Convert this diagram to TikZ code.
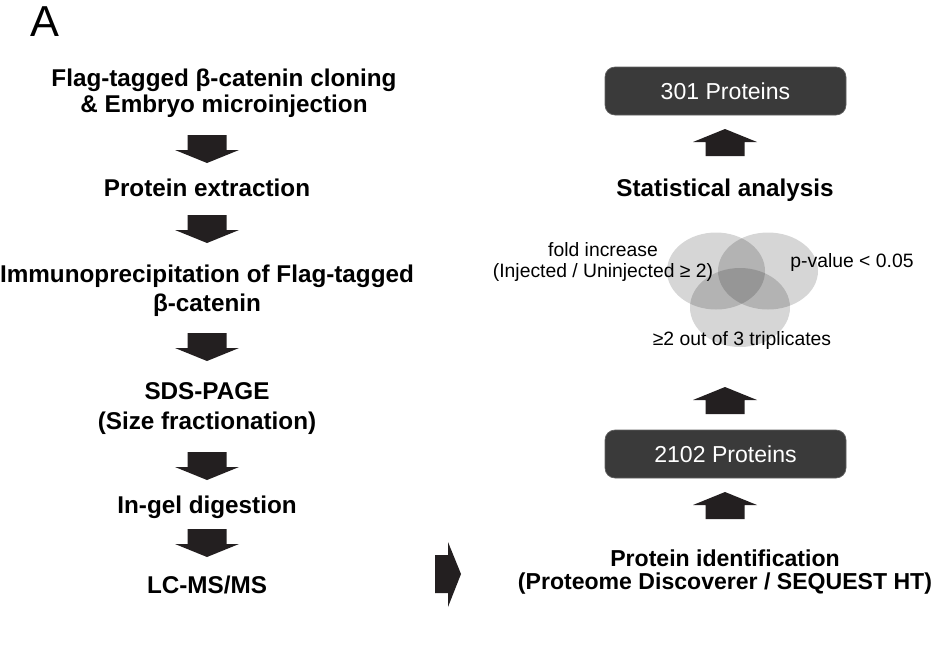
\documentclass[tikz,border=0pt]{standalone}
\usepackage{fontspec}
\setmainfont{Liberation Sans}
\usetikzlibrary{positioning}
\definecolor{arrowc}{HTML}{231F20}
\definecolor{boxc}{HTML}{3A3A3A}
\tikzset{
  steptext/.style={font=\fontsize{18.2}{19.5}\selectfont\bfseries, align=center, inner sep=0pt, text=black},
  plaintext/.style={font=\fontsize{14.5}{15.5}\selectfont, align=center, inner sep=0pt, text=black},
  countbox/.style={fill=boxc, draw=boxc!80!white, line width=0.5pt, rounded corners=7.5pt, minimum width=180.75pt, minimum height=36pt, text=white, font=\fontsize{17.3}{19}\selectfont, inner sep=0pt},
  vennset/.style={fill=black, fill opacity=0.16, draw=none},
  blockarrow/.style={fill=arrowc, draw=none}
}
% down arrow at (x, top y): shaft 39 wide x 15, head 64 wide x 13
\newcommand{\downarr}[2]{%
  \fill[blockarrow] (#1-19.5,#2) -- (#1+19.5,#2) -- (#1+19.5,#2+15) -- (#1+32,#2+15) -- (#1,#2+28) -- (#1-32,#2+15) -- (#1-19.5,#2+15) -- cycle;}
\newcommand{\uparr}[2]{%
  \fill[blockarrow] (#1-19.5,#2) -- (#1+19.5,#2) -- (#1+19.5,#2-14) -- (#1+32,#2-14) -- (#1,#2-27) -- (#1-32,#2-14) -- (#1-19.5,#2-14) -- cycle;}
\begin{document}
\begin{tikzpicture}[x=0.75pt,y=-0.75pt]
\useasboundingbox (0,0) rectangle (943,644);
\fill[white] (0,0) rectangle (943,644);

\node[font=\fontsize{32.5}{34}\selectfont, inner sep=0pt] (lab) at (44.5,21.5) {A};

% left column
\node[steptext] (s1) at (224,93.7) {Flag-tagged β-catenin cloning\\\& Embryo microinjection};
\node[steptext] (s2) at (207,188) {Protein extraction};
\node[steptext, font=\fontsize{18.2}{21.75}\selectfont\bfseries] (s3) at (207,291) {Immunoprecipitation of Flag-tagged\\β-catenin};
\node[steptext, font=\fontsize{18.2}{22.5}\selectfont\bfseries] (s4) at (207,408.7) {SDS-PAGE\\(Size fractionation)};
\node[steptext] (s5) at (207,507) {In-gel digestion};
\node[steptext] (s6) at (207,585) {LC-MS/MS};

\downarr{207}{135}
\downarr{207}{215}
\downarr{207}{333}
\downarr{207}{452}
\downarr{207}{529}

% right-pointing arrow
\fill[blockarrow] (435,555) -- (448,555) -- (448,542) -- (461,574) -- (448,607) -- (448,593) -- (435,593) -- cycle;

% right column
\node[steptext, font=\fontsize{17.3}{17.25}\selectfont\bfseries] (pid) at (725,572.5) {Protein identification\\(Proteome Discoverer / SEQUEST HT)};
\node[countbox] (b2102) at (725.5,454) {2102 Proteins};
\node[countbox] (b301) at (725.5,91) {301 Proteins};
\node[steptext] (stat) at (725,190) {Statistical analysis};

\uparr{725}{519}
\uparr{725}{414}
\uparr{725}{156}

% Venn
\fill[vennset] (716,271) ellipse [x radius=49, y radius=38.5];
\fill[vennset] (768,271) ellipse [x radius=50, y radius=38.5];
\fill[vennset] (740,307.5) ellipse [x radius=50, y radius=39.5];

\node[plaintext] (fold) at (603,262) {fold increase\\(Injected / Uninjected ≥ 2)};
\node[plaintext] (pval) at (852,262) {p-value < 0.05};
\node[plaintext] (trip) at (742,340) {≥2 out of 3 triplicates};
\end{tikzpicture}
\end{document}
